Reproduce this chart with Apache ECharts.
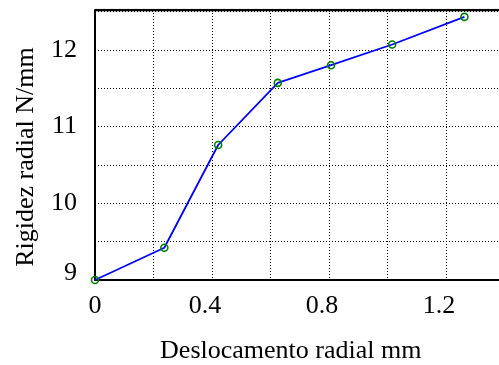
<!DOCTYPE html>
<html>
<head>
<meta charset="utf-8">
<script src="https://cdn.jsdelivr.net/npm/echarts@6/dist/echarts.min.js"></script>
<style>html,body{margin:0;padding:0;background:#fff}#c{width:499px;height:365px}</style>
</head>
<body>
<div id="c"></div>
<script>
const xValues = [0, 0.237, 0.421, 0.625, 0.807, 1.016, 1.263];
const yValues = [9, 9.42, 10.76, 11.57, 11.80, 12.07, 12.43];
const xTickLabels = ['0', '0.4', '0.8', '1.2'];
const yTickLabels = ['9', '10', '11', '12'];
const xTitle = 'Deslocamento radial mm';
const yTitle = 'Rigidez radial N/mm';

const FONT = "'Liberation Serif', 'Times New Roman', serif";
const FS = 26;
const XMAX = 1.4;
const chart = echarts.init(document.getElementById('c'), null, {renderer: 'canvas'});
const fmtX = v => {
  const t = String(Math.round(v * 10) / 10);
  if (Math.abs(v - Math.round(v * 10) / 10) > 1e-6) return '';
  if (!xTickLabels.includes(t)) return '';
  return t === '0' ? t : '{sh|' + t + '}';
};
const fmtY = v => {
  const s = String(Math.round(v * 100) / 100);
  if (!yTickLabels.includes(s)) return '';
  return s === '9' ? '{low|9}' : s;
};
chart.setOption({
  animation: false,
  backgroundColor: '#fff',
  grid: {left: 95, top: 10, width: 409.5, bottom: 85, containLabel: false, outerBoundsMode: 'none'},
  xAxis: {
    type: 'value', min: 0, max: XMAX, interval: 0.2,
    name: xTitle, nameLocation: 'middle', nameGap: 58,
    nameTextStyle: {fontFamily: FONT, fontSize: FS, color: '#000', padding: [0, 18, 0, 0]},
    axisLine: {show: true, onZero: false, lineStyle: {color: '#000', width: 2}},
    axisTick: {show: false},
    axisLabel: {formatter: fmtX, fontFamily: FONT, fontSize: FS, color: '#000', margin: 13,
      rich: {sh: {fontFamily: FONT, fontSize: FS, color: '#000', padding: [0, 14, 0, 0]}}},
    splitLine: {show: true, lineStyle: {color: '#000', type: [1, 2], width: 1}}
  },
  yAxis: {
    type: 'value', min: 9, max: 12.52, interval: 0.5,
    name: yTitle, nameLocation: 'middle', nameGap: 56,
    nameTextStyle: {fontFamily: FONT, fontSize: FS, color: '#000', padding: [0, 24, 0, 0]},
    axisLine: {show: true, onZero: false, lineStyle: {color: '#000', width: 2}},
    axisTick: {show: false},
    axisLabel: {formatter: fmtY, fontFamily: FONT, fontSize: FS, color: '#000', margin: 18,
      rich: {low: {fontFamily: FONT, fontSize: FS, color: '#000', padding: [0, 0, 14, 0]}}},
    splitLine: {show: true, lineStyle: {color: '#000', type: [1, 2], width: 1}}
  },
  series: [{
    type: 'line',
    data: xValues.map((x, i) => [x, yValues[i]]),
    symbol: 'circle', symbolSize: 7,
    lineStyle: {color: '#0000ff', width: 1.8},
    itemStyle: {color: 'rgba(0,0,0,0)', borderColor: '#008000', borderWidth: 1.6},
    z: 5
  }, {
    type: 'line', data: [[0, 12.52], [XMAX, 12.52]], symbol: 'none',
    lineStyle: {color: '#000', width: 2.5}, silent: true, z: 4
  }]
});
</script>
</body>
</html>
